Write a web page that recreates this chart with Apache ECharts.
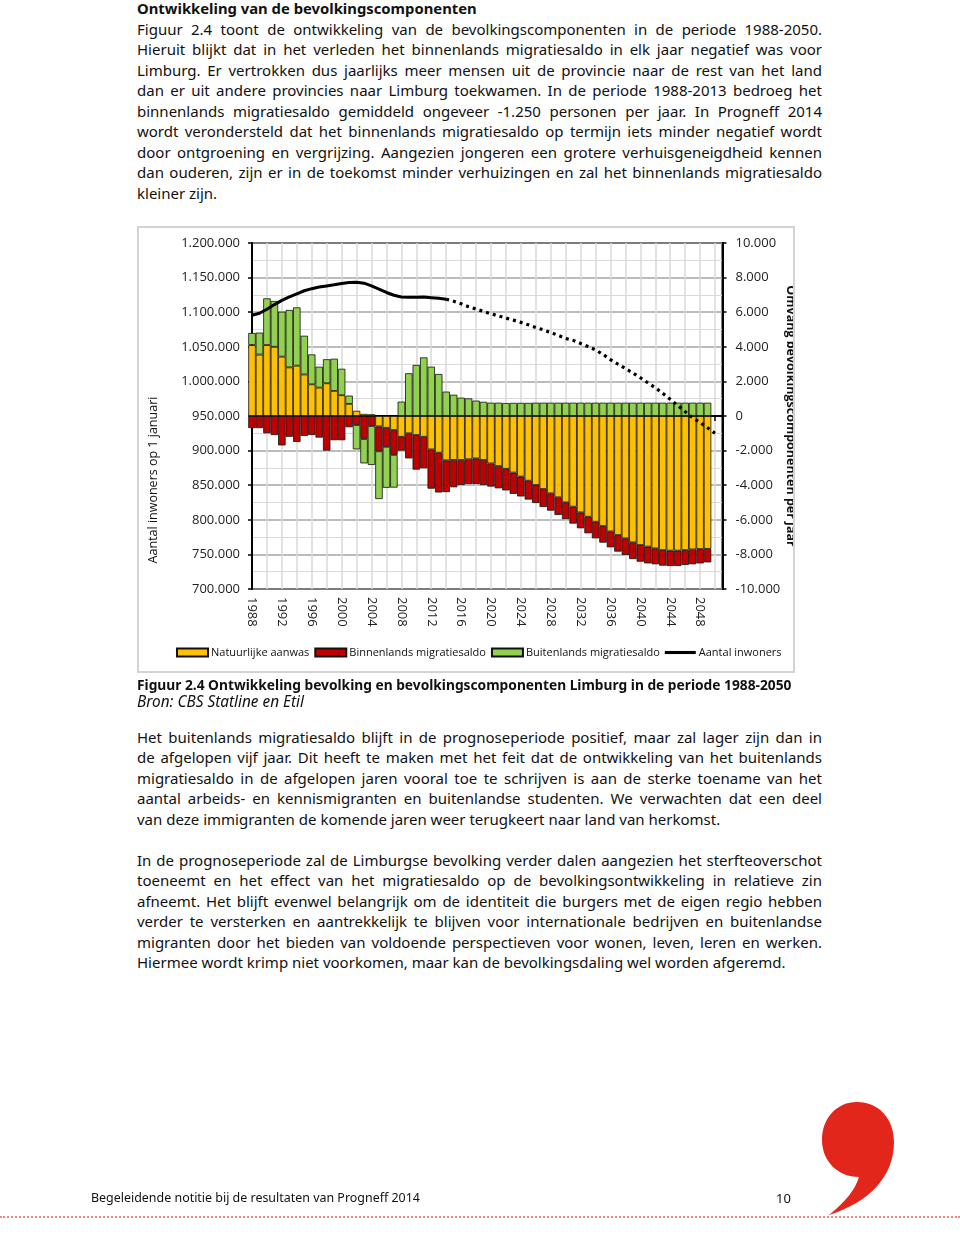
<!DOCTYPE html>
<html><head><meta charset="utf-8">
<script src="https://cdn.jsdelivr.net/npm/echarts@6/dist/echarts.min.js"></script>
<style>
html,body{margin:0;padding:0;background:#fff}
body{width:960px;height:1236px;position:relative;overflow:hidden;font-family:'Noto Sans',sans-serif;color:#111}
.blk{position:absolute;left:137px;width:685px}
.ln{height:20.5px;line-height:20.5px;text-align:justify;text-align-last:justify;white-space:normal;overflow:visible}
.ln.last{text-align-last:left}
#head{position:absolute;left:137px;top:-2px;font-weight:bold;line-height:20px;white-space:nowrap}
#cap1{position:absolute;left:137px;top:676px;font-weight:bold;line-height:18px;white-space:nowrap}
#cap2{position:absolute;left:137px;top:692px;font-style:italic;line-height:18px;white-space:nowrap}
#chart{position:absolute;left:137px;top:226px;width:658px;height:447px}
#frame{position:absolute;left:137px;top:226px;width:654px;height:443px;border:2px solid #d3d3d3;pointer-events:none}
#foot{position:absolute;left:91px;top:1189px;font-size:13px;line-height:18px;white-space:nowrap}
#page{position:absolute;left:776px;top:1189px;font-size:13px;line-height:18px}
#dots{position:absolute;left:0;top:1216px;width:960px;border-top:2px dotted #ec8a83}
#logo{position:absolute;left:0;top:0}
</style></head>
<body>
<div id="head">Ontwikkeling van de bevolkingscomponenten</div>
<div class="blk" id="p1" style="top:18.7px">
<div class="ln">Figuur 2.4 toont de ontwikkeling van de bevolkingscomponenten in de periode 1988-2050.</div>
<div class="ln">Hieruit blijkt dat in het verleden het binnenlands migratiesaldo in elk jaar negatief was voor</div>
<div class="ln">Limburg. Er vertrokken dus jaarlijks meer mensen uit de provincie naar de rest van het land</div>
<div class="ln">dan er uit andere provincies naar Limburg toekwamen. In de periode 1988-2013 bedroeg het</div>
<div class="ln">binnenlands migratiesaldo gemiddeld ongeveer -1.250 personen per jaar. In Progneff 2014</div>
<div class="ln">wordt verondersteld dat het binnenlands migratiesaldo op termijn iets minder negatief wordt</div>
<div class="ln">door ontgroening en vergrijzing. Aangezien jongeren een grotere verhuisgeneigdheid kennen</div>
<div class="ln">dan ouderen, zijn er in de toekomst minder verhuizingen en zal het binnenlands migratiesaldo</div>
<div class="ln last">kleiner zijn.</div>
</div>
<div id="chart"></div>
<div id="frame"></div>
<div id="cap1">Figuur 2.4 Ontwikkeling bevolking en bevolkingscomponenten Limburg in de periode 1988-2050</div>
<div id="cap2">Bron: CBS Statline en Etil</div>
<div class="blk" id="p2" style="top:726.7px">
<div class="ln">Het buitenlands migratiesaldo blijft in de prognoseperiode positief, maar zal lager zijn dan in</div>
<div class="ln">de afgelopen vijf jaar. Dit heeft te maken met het feit dat de ontwikkeling van het buitenlands</div>
<div class="ln">migratiesaldo in de afgelopen jaren vooral toe te schrijven is aan de sterke toename van het</div>
<div class="ln">aantal arbeids- en kennismigranten en buitenlandse studenten. We verwachten dat een deel</div>
<div class="ln last">van deze immigranten de komende jaren weer terugkeert naar land van herkomst.</div>
</div>
<div class="blk" id="p3" style="top:849.7px">
<div class="ln">In de prognoseperiode zal de Limburgse bevolking verder dalen aangezien het sterfteoverschot</div>
<div class="ln">toeneemt en het effect van het migratiesaldo op de bevolkingsontwikkeling in relatieve zin</div>
<div class="ln">afneemt. Het blijft evenwel belangrijk om de identiteit die burgers met de eigen regio hebben</div>
<div class="ln">verder te versterken en aantrekkelijk te blijven voor internationale bedrijven en buitenlandse</div>
<div class="ln">migranten door het bieden van voldoende perspectieven voor wonen, leven, leren en werken.</div>
<div class="ln last">Hiermee wordt krimp niet voorkomen, maar kan de bevolkingsdaling wel worden afgeremd.</div>
</div>
<svg id="logo" width="960" height="1236" viewBox="0 0 960 1236">
<path d="M857,1102 C879,1102 894,1119 894,1142 C894,1176 870,1202 829,1215 C846,1201 855,1190 859,1177 C838,1177 822,1161 822,1140 C822,1118 837,1102 857,1102 Z" fill="#e2261c"/>
</svg>
<div id="foot">Begeleidende notitie bij de resultaten van Progneff 2014</div>
<div id="page">10</div>
<div id="dots"></div>
<script>
// ---------- data ----------
const years = ['1988','1989','1990','1991','1992','1993','1994','1995','1996','1997','1998','1999',
'2000','2001','2002','2003','2004','2005','2006','2007','2008','2009','2010','2011','2012','2013','2014',
'2015','2016','2017','2018','2019','2020','2021','2022','2023','2024','2025','2026','2027','2028','2029',
'2030','2031','2032','2033','2034','2035','2036','2037','2038','2039','2040','2041','2042','2043','2044',
'2045','2046','2047','2048','2049','2050'];
const natuurlijkeAanwas = [4100,3550,4100,4000,3430,2810,2910,2400,1830,1640,1890,1450,
1200,700,300,120,100,-600,-680,-810,-1200,-1000,
-1100,-1200,-1930,-2120,-2560,-2540,-2540,-2500,-2450,-2540,
-2740,-2890,-3050,-3270,-3500,-3740,-3990,-4220,-4470,-4700,
-4990,-5240,-5570,-5820,-6110,-6360,-6670,-6880,-7070,-7300,
-7460,-7550,-7650,-7750,-7780,-7780,-7750,-7710,-7690,-7680];
const binnenlandsSaldo = [-700,-700,-1000,-1100,-1700,-1200,-1500,-1150,-1100,-1250,-2000,-1400,
-1400,-650,-520,-1330,-580,-1440,-1100,-1440,-800,-1450,
-2000,-1820,-2270,-2300,-1840,-1580,-1450,-1430,-1480,-1450,
-1340,-1290,-1250,-1230,-1150,-1090,-1040,-1040,-1000,-1020,
-970,-980,-920,-960,-960,-960,-920,-960,-960,-970,
-960,-970,-920,-900,-890,-890,-860,-860,-830,-780];
const buitenlandsSaldo = [700,1270,2700,2650,2600,3320,3370,2240,1730,1210,1390,1860,
1530,480,-1410,-1410,-2250,-2760,-2370,-1890,830,2470,
2950,3390,2850,2430,1410,1230,1060,1020,890,820,
770,770,750,760,760,760,770,770,770,770,
770,770,770,770,770,770,770,770,770,770,
770,770,770,770,770,770,770,770,770,770];
const aantalInwoners = [1095500,1098500,1104300,1111000,1117000,1122000,1126500,1131000,1134000,1136300,1138000,1139600,
1141400,1142800,1143300,1142000,1138000,1133500,1128500,1124500,1122000,1121500,
1121500,1122000,1121000,1120000,1118800,1115800,1112300,1108000,1104600,1101000,
1097700,1094700,1091500,1088500,1085300,1081800,1078000,1074500,1070700,1066500,
1062000,1059300,1054800,1050300,1045500,1039000,1031500,1025000,1018600,1012200,
1005300,998000,990800,982800,974200,965200,956200,947600,940500,933000,925000];
const lastObservedYear = '2014';

// ---------- text fitting ----------
function natW(el, size){
  const s=document.createElement('span');
  s.style.whiteSpace='nowrap'; s.style.fontSize=size+'px';
  s.style.fontWeight=getComputedStyle(el).fontWeight; s.style.fontStyle=getComputedStyle(el).fontStyle;
  s.textContent=el.textContent; document.body.appendChild(s);
  const w=s.getBoundingClientRect().width; s.remove(); return w;
}
(function(){
  const lines=[...document.querySelectorAll('.ln')];
  const base=15; let mx=0;
  lines.forEach(l=>{ if(!l.classList.contains('last')) mx=Math.max(mx,natW(l,base)); });
  const f = mx>682 ? base*682/mx : base;
  lines.forEach(l=>l.style.fontSize=f+'px');
  const fitExact=(id,target)=>{const el=document.getElementById(id);const w=natW(el,15);el.style.fontSize=(15*target/w)+'px';};
  fitExact('head',340); fitExact('cap1',655); fitExact('cap2',167); fitExact('foot',329);
})();

// ---------- chart ----------
const fmt = v => String(v).replace(/\B(?=(\d{3})+(?!\d))/g,'.');
const idxLast = years.indexOf(lastObservedYear);
const solidLine = aantalInwoners.map((v,i)=> i<=idxLast ? v : null);
const dottedLine = aantalInwoners.map((v,i)=> i>=idxLast ? v : null);
const FONT='Open Sans';
const chart = echarts.init(document.getElementById('chart'), null, {renderer:'canvas'});
const barStyle = c => ({color:c, borderColor:'#111', borderWidth:0.8});
chart.setOption({
  animation:false,
  textStyle:{fontFamily:FONT},
  grid:{left:115, top:17, width:470.5, height:346, show:true, borderColor:'#000', borderWidth:2, backgroundColor:'transparent'},
  legend:{
    left:39, top:421, width:640, itemWidth:31, itemHeight:8, itemGap:5, padding:0,
    textStyle:{fontFamily:FONT, fontSize:11, color:'#111', padding:[0,0,0,-2]},
    data:[
      {name:'Natuurlijke aanwas', icon:'rect'},
      {name:'Binnenlands migratiesaldo', icon:'rect'},
      {name:'Buitenlands migratiesaldo', icon:'rect'},
      {name:'Aantal inwoners', icon:'path://M0,0 L30,0 L30,3 L0,3 Z'}
    ]
  },
  xAxis:{
    type:'category', data:years, boundaryGap:false, max:63,
    axisLine:{lineStyle:{color:'#000', width:2}},
    axisTick:{show:true, interval:1, length:5, lineStyle:{color:'#000', width:1.5}},
    axisLabel:{interval:3, rotate:-90, margin:8, fontSize:13, color:'#222', fontFamily:FONT},
    splitLine:{show:true, interval:1, lineStyle:{color:'#d9d9d9', width:1.5}}
  },
  yAxis:[
    {type:'value', position:'left', min:700000, max:1200000, interval:50000,
     axisLine:{show:true, lineStyle:{color:'#000', width:2}},
     axisTick:{show:true, length:4, lineStyle:{color:'#000', width:1.5}},
     axisLabel:{formatter:fmt, fontSize:13, color:'#222', margin:12, fontFamily:FONT},
     splitLine:{show:false}},
    {type:'value', position:'right', min:-10000, max:10000, interval:2000,
     axisLine:{show:true, lineStyle:{color:'#000', width:2}},
     axisTick:{show:true, length:4, lineStyle:{color:'#000', width:1.5}},
     axisLabel:{formatter:fmt, fontSize:13, color:'#222', margin:13, fontFamily:FONT},
     splitLine:{show:true, lineStyle:{color:'#a6a6a6', width:1.5}},
     minorTick:{show:false, splitNumber:2},
     minorSplitLine:{show:true, lineStyle:{color:'#d9d9d9', width:1.2}}}
  ],
  graphic:[
    {type:'text', x:16, y:254, rotation:Math.PI/2,
     style:{text:'Aantal inwoners op 1 januari', fontSize:12.5, fontFamily:FONT, fill:'#111', align:'center', verticalAlign:'middle'}},
    {type:'text', x:654, y:190, rotation:-Math.PI/2,
     style:{text:'Omvang bevolkingscomponenten per jaar', fontSize:12.5, fontWeight:'bold', fontFamily:FONT, fill:'#111', align:'center', verticalAlign:'middle'}}
  ],
  series:[
    {name:'Natuurlijke aanwas', type:'bar', yAxisIndex:1, stack:'comp', barWidth:'100%', data:natuurlijkeAanwas, itemStyle:barStyle('#FFC000'), z:2},
    {name:'Binnenlands migratiesaldo', type:'bar', yAxisIndex:1, stack:'comp', data:binnenlandsSaldo, itemStyle:barStyle('#C00000'), z:2},
    {name:'Buitenlands migratiesaldo', type:'bar', yAxisIndex:1, stack:'comp', data:buitenlandsSaldo, itemStyle:barStyle('#92D050'), z:2},
    {name:'Aantal inwoners', type:'line', yAxisIndex:0, data:solidLine, showSymbol:false, symbol:'none',
     lineStyle:{color:'#000', width:3}, itemStyle:{color:'#000'}, z:5},
    {name:'Aantal inwoners (prognose)', type:'line', yAxisIndex:0, data:dottedLine, showSymbol:false, symbol:'none',
     lineStyle:{color:'#000', width:3.2, type:[3,4], cap:'butt'}, itemStyle:{color:'#000'}, z:5}
  ]
});
</script>
</body></html>
